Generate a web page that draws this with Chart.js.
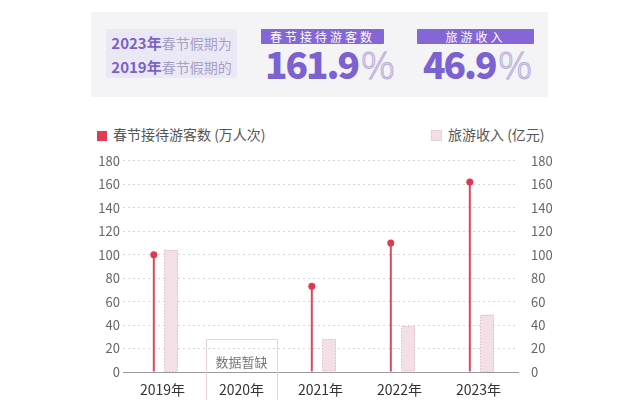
<!DOCTYPE html>
<html><head><meta charset="utf-8">
<script src="https://cdn.jsdelivr.net/npm/chart.js@4/dist/chart.umd.min.js"></script>
<style>
html,body{margin:0;padding:0;width:640px;height:400px;background:#fff;overflow:hidden;font-family:"Noto Sans CJK SC","Noto Sans",sans-serif;}
.abs{position:absolute;}
#panel{left:91px;top:12px;width:457px;height:85px;background:#f4f3f6;}
#lbox{left:106px;top:29px;width:131px;height:49px;background:#ebe8f6;border-radius:2px;}
.ln{left:106px;width:131px;text-align:center;font-size:14px;color:#a79fc4;line-height:16px;white-space:nowrap;}
.ln b{color:#7a62c8;font-weight:700;font-size:15px;}
.tag{top:29px;height:15px;background:#8466d6;color:#fff;font-size:12px;line-height:15px;text-align:center;letter-spacing:3px;border-radius:1px;}
.big{top:41px;font-size:37px;font-weight:900;color:#7b62d0;white-space:nowrap;letter-spacing:-2px;line-height:44px;font-family:"Noto Sans CJK SC",sans-serif;}
.big span{color:#f4f3f6;-webkit-text-stroke:1px #b6aad8;font-weight:300;font-size:37px;margin-left:3px;letter-spacing:0;}
.leg{top:126px;font-size:14px;color:#555;line-height:16px;white-space:nowrap;}
.sq{display:inline-block;width:10px;height:10px;vertical-align:-1px;margin-right:6px;}
#cv{position:absolute;left:0;top:148px;}
</style></head>
<body>
<div class="abs" id="panel"></div>
<div class="abs" id="lbox"></div>
<div class="abs ln" style="top:35px"><b>2023年</b>春节假期为</div>
<div class="abs ln" style="top:59px"><b>2019年</b>春节假期的</div>
<div class="abs tag" style="left:261px;width:123px;">春节接待游客数</div>
<div class="abs big" style="left:265px;">161.9<span>%</span></div>
<div class="abs tag" style="left:417px;width:117px;">旅游收入</div>
<div class="abs big" style="left:423px;">46.9<span>%</span></div>
<div class="abs leg" style="left:97px;"><span class="sq" style="background:#e23c50;"></span>春节接待游客数 (万人次)</div>
<div class="abs leg" style="left:431px;"><span class="sq" style="background:#f3e0e6;border:1px dotted #e2bccb;width:9px;height:9px;"></span>旅游收入 (亿元)</div>
<canvas id="cv" width="640" height="252"></canvas>
<script>
const categories = ["2019年","2020年","2021年","2022年","2023年"];
const visitors = [100, null, 73, 110, 162];
const revenue = [104, null, 28, 39, 49];
const yTicks = [0,20,40,60,80,100,120,140,160,180];
const missingLabel = "数据暂缺";
const missingIndex = 1;

const decor = {
  id:'decor',
  afterDatasetsDraw(chart){
    const ctx = chart.ctx;
    const bm = chart.getDatasetMeta(1);
    const bd = chart.data.datasets[1].data;
    ctx.save();
    ctx.strokeStyle = '#e2bccb'; ctx.lineWidth = 1; ctx.setLineDash([1.5,1.5]);
    bm.data.forEach((el,i)=>{
      if (bd[i] == null) return;
      const w = el.width;
      ctx.strokeRect(Math.round(el.x - w/2)+0.5, Math.round(el.y)+0.5, Math.round(w)-1, Math.round(el.base - el.y)-1);
    });
    ctx.restore();
    const sm = chart.getDatasetMeta(0);
    const sd = chart.data.datasets[0].data;
    ctx.save();
    ctx.fillStyle = '#e0384f';
    sm.data.forEach((el,i)=>{
      if (sd[i] == null) return;
      ctx.beginPath(); ctx.arc(el.x, el.y, 3.5, 0, Math.PI*2); ctx.fill();
    });
    ctx.restore();
  },
  afterDraw(chart){
    const ctx = chart.ctx, xs = chart.scales.x, ys = chart.scales.y;
    const cx = xs.getPixelForValue(missingIndex);
    const half = xs.width / categories.length * 0.45;
    const top = ys.getPixelForValue(0) - 33;
    ctx.save();
    ctx.strokeStyle = '#e6d3da'; ctx.lineWidth = 1;
    ctx.strokeRect(Math.round(cx-half)+0.5, Math.round(top)+0.5, Math.round(half*2), chart.height);
    ctx.fillStyle = '#777'; ctx.font = '13px "Noto Sans CJK SC"';
    ctx.textAlign = 'center'; ctx.textBaseline = 'middle';
    ctx.fillText(missingLabel, cx, ys.getPixelForValue(0) - 10);
    ctx.restore();
  }
};

const tickFont = {family:'"Noto Sans CJK SC","Noto Sans",sans-serif', size:13};
new Chart(document.getElementById('cv'), {
  type:'bar',
  data:{
    labels: categories,
    datasets:[
      {label:'春节接待游客数 (万人次)', data: visitors, backgroundColor:'#d94a5c', maxBarThickness:2, yAxisID:'y'},
      {label:'旅游收入 (亿元)', data: revenue, backgroundColor:'#f3e0e6', yAxisID:'y'}
    ]
  },
  options:{
    responsive:false, animation:false,
    categoryPercentage:0.44, barPercentage:0.78,
    layout:{padding:{left:83,right:82,top:8,bottom:0}},
    plugins:{legend:{display:false}, tooltip:{enabled:false}},
    scales:{
      x:{
        grid:{display:false},
        border:{display:true,color:'#9a9a9a',width:1},
        ticks:{color:'#333', font:{family:'"Noto Sans CJK SC",sans-serif', size:14}, padding:1},
        afterFit(s){ s.height = 28; }
      },
      y:{
        position:'left', min:0, max:180,
        afterBuildTicks(s){ s.ticks = yTicks.map(v=>({value:v})); },
        grid:{color:'#d6d6d6', lineWidth:1, drawTicks:false},
        border:{display:false, dash:[2,3]},
        ticks:{color:'#666', font:tickFont, padding:3},
        afterFit(s){ s.width = 40; }
      },
      y2:{
        position:'right', min:0, max:180,
        afterBuildTicks(s){ s.ticks = yTicks.map(v=>({value:v})); },
        grid:{display:false, drawOnChartArea:false},
        border:{display:false},
        ticks:{color:'#666', font:tickFont, padding:5},
        afterFit(s){ s.width = 40; }
      }
    }
  },
  plugins:[decor]
});
</script>
</body></html>
